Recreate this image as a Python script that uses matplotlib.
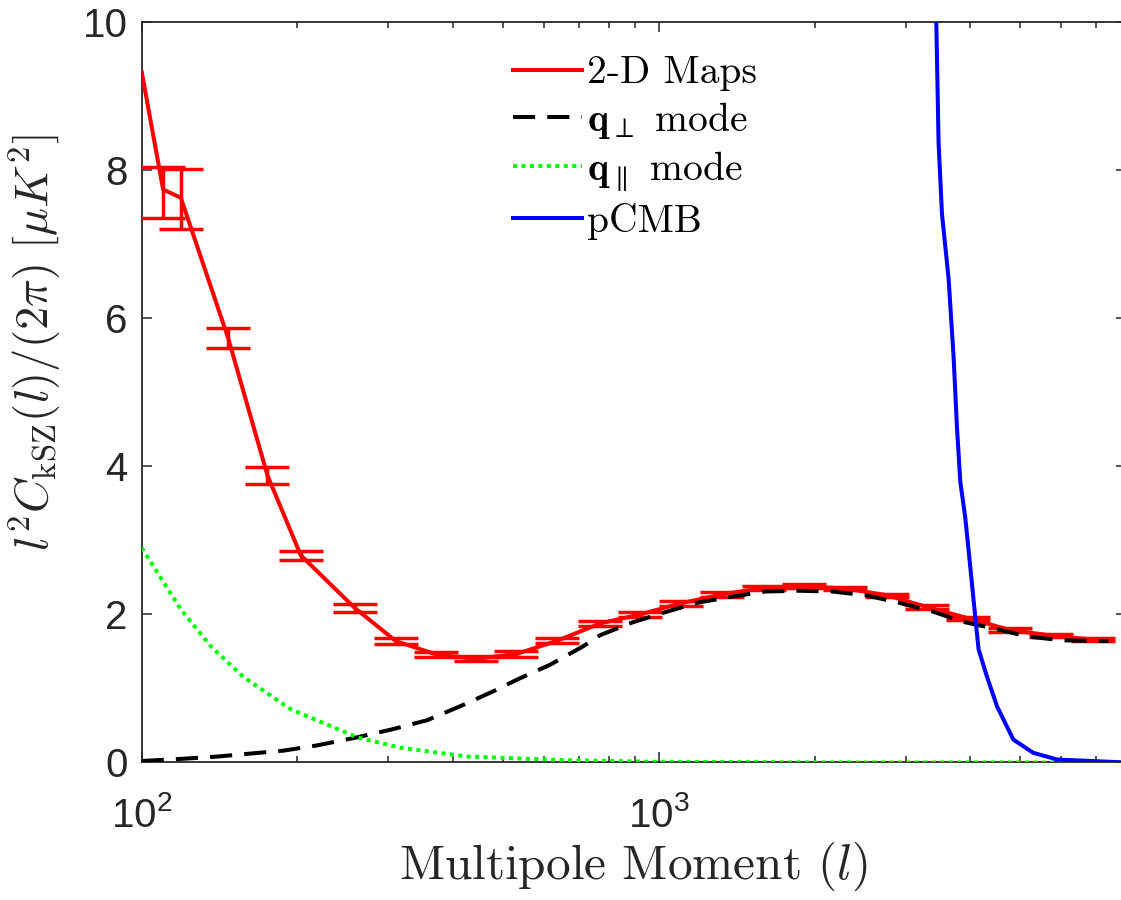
import numpy as np
import matplotlib
matplotlib.use('Agg')
import matplotlib.pyplot as plt
from matplotlib.ticker import NullFormatter, FixedLocator

plt.rcParams['font.family'] = ['Liberation Sans', 'DejaVu Sans']
plt.rcParams['mathtext.fontset'] = 'dejavusans'

# 2-D maps (binned, with error bars)
ell_maps = [100, 110, 119, 147, 175, 203, 258, 310, 371, 443, 530, 636, 771,
            920, 1102, 1323, 1595, 1910, 2291, 2758, 3298, 3955, 4770, 5740, 6900]
cl_maps = [9.33, 7.74, 7.63, 5.73, 3.88, 2.80, 2.09, 1.64, 1.46, 1.40, 1.465, 1.645, 1.88,
           2.00, 2.15, 2.27, 2.36, 2.38, 2.35, 2.26, 2.10, 1.95, 1.79, 1.715, 1.66]
err_lo = [0.0, 0.38, 0.43, 0.135, 0.115, 0.06, 0.054, 0.035, 0.035, 0.035, 0.035, 0.035, 0.03,
          0.03, 0.03, 0.03, 0.025, 0.025, 0.025, 0.022, 0.022, 0.022, 0.022, 0.022, 0.022]
err_hi = [0.0, 0.31, 0.39, 0.135, 0.115, 0.06, 0.054, 0.035, 0.035, 0.035, 0.035, 0.035, 0.03,
          0.03, 0.03, 0.03, 0.025, 0.025, 0.025, 0.022, 0.022, 0.022, 0.022, 0.022, 0.022]

# q_perp mode
ell_perp = [100, 120, 140, 162, 188, 218, 261, 306, 356, 413, 478, 532, 616, 714, 770,
            887, 1028, 1191, 1386, 1606, 1862, 2163, 2506, 2906, 3380, 3878, 4510, 5177,
            6050, 7080, 7400]
cl_perp = [0.02, 0.05, 0.08, 0.12, 0.16, 0.23, 0.34, 0.45, 0.57, 0.76, 0.96, 1.12, 1.32, 1.57, 1.72,
           1.89, 2.03, 2.16, 2.24, 2.31, 2.32, 2.31, 2.26, 2.16, 2.04, 1.90, 1.80, 1.70,
           1.65, 1.64, 1.64]

# q_par mode
ell_par = [100, 119, 136, 157, 194, 261, 316, 426, 665, 961, 2000, 8000]
cl_par = [2.90, 2.07, 1.57, 1.16, 0.72, 0.34, 0.20, 0.08, 0.03, 0.01, 0.0, 0.0]

# primary CMB
ell_cmb = [3439, 3474, 3527, 3632, 3714, 3771, 3827, 3912, 3969, 4090, 4151, 4309,
           4506, 4845, 5297, 5894, 8000]
cl_cmb = [10.0, 8.37, 7.41, 6.54, 5.48, 4.52, 3.79, 3.31, 2.88, 1.97, 1.53, 1.16,
          0.76, 0.31, 0.13, 0.04, 0.0]

axcol = '#262626'

fig = plt.figure(figsize=(11.21, 9), dpi=100)
ax = fig.add_axes([0.1264, 0.1528, 0.878, 0.8225])

ax.plot(ell_maps, cl_maps, color='r', lw=2.9, label='2-D Maps', zorder=3)
ax.errorbar(ell_maps[1:], cl_maps[1:], yerr=[err_lo[1:], err_hi[1:]], fmt='none',
            ecolor='r', elinewidth=2.5, capsize=15.5, capthick=2.5, zorder=3)
ax.plot(ell_perp, cl_perp, color='k', lw=2.9, dashes=(5.5, 3),
        label=r'$\mathbf{q}_{\perp}$ mode', zorder=4)
ax.plot(ell_par, cl_par, color=(0, 1, 0), lw=2.9, dashes=(1, 1.1),
        label=r'$\mathbf{q}_{\parallel}$ mode', zorder=4)
ax.plot(ell_cmb, cl_cmb, color='b', lw=2.9, label='pCMB', zorder=5)

ax.set_xscale('log')
ax.set_xlim(100, 8000)
ax.set_ylim(0, 10)
ax.yaxis.set_major_locator(FixedLocator([0, 2, 4, 6, 8, 10]))
ax.xaxis.set_minor_formatter(NullFormatter())

for s in ax.spines.values():
    s.set_color(axcol)
    s.set_linewidth(1.3)
ax.tick_params(which='both', direction='in', top=True, right=True, colors=axcol,
               labelsize=29, width=1.1)
ax.tick_params(which='major', length=7)
ax.tick_params(which='minor', length=4)
ax.tick_params(axis='y', pad=10)
ax.tick_params(axis='x', pad=24)

ax.set_xlabel(r'Multipole Moment $(l)$', fontsize=35.5, fontfamily='cmr10',
              math_fontfamily='cm', color=axcol)
ax.xaxis.set_label_coords(0.5, -0.104)
ax.set_ylabel(r'$l^2C_{\mathrm{kSZ}}(l)/(2\pi)\ [\mu K^2]$', fontsize=33.5,
              math_fontfamily='cm', color=axcol)
ax.yaxis.set_label_coords(-0.08, 0.568)

leg = ax.legend(loc='upper left', bbox_to_anchor=(0.377, 0.955), frameon=False,
                prop={'family': 'cmr10', 'size': 28.5}, handlelength=1.75,
                handletextpad=0.12, labelspacing=0.22, borderpad=0, borderaxespad=0)
for t in leg.get_texts():
    t.set_math_fontfamily('cm')

fig.savefig('out.png', dpi=100)
